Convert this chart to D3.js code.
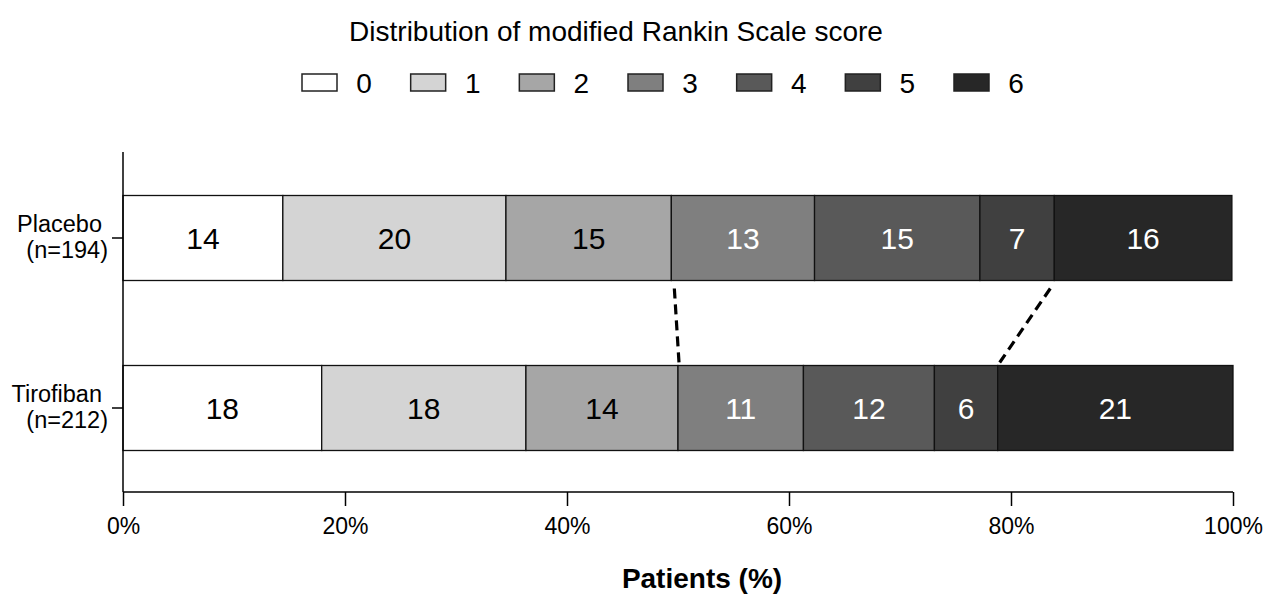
<!DOCTYPE html>
<html>
<head>
<meta charset="utf-8">
<script src="https://cdn.jsdelivr.net/npm/d3@7"></script>
<style>
  body { margin: 0; background: #fff; }
  text { font-family: "Liberation Sans", Arial, sans-serif; }
</style>
</head>
<body>
<div id="chart"></div>
<script>
// data: share of patients (%) per mRS score
const scores = ["0", "1", "2", "3", "4", "5", "6"];
const groups = ["Placebo", "Tirofiban"];
const groupN = ["(n=194)", "(n=212)"];
const placebo = [14.4, 20.1, 14.9, 12.9, 14.9, 6.7, 16.0];
const tirofiban = [17.9, 18.4, 13.7, 11.3, 11.8, 5.7, 21.2];
const xTicks = [0, 20, 40, 60, 80, 100];
// dashed connectors: boundary after these score indexes
const links = [2, 5];

const W = 1265, H = 594;
const margin = { top: 152, right: 32, bottom: 102, left: 123 };

const colorScale = d3.scaleOrdinal()
  .domain(scores)
  .range(["#ffffff", "#d4d4d4", "#a6a6a6", "#7f7f7f", "#595959", "#404040", "#272727"]);
const textColor = s => (+s >= 3 ? "#fff" : "#000");

const svg = d3.select("#chart").append("svg")
  .attr("width", W).attr("height", H);

const x = d3.scaleLinear().domain([0, 100]).range([margin.left, W - margin.right]);
// centre of each bar
const y = d3.scalePoint().domain(groups).range([238, 408]);
const bandH = 85;

// title
svg.append("text")
  .attr("x", 616).attr("y", 41)
  .attr("text-anchor", "middle")
  .style("font-size", "28px")
  .text("Distribution of modified Rankin Scale score");

// legend
const legend = svg.append("g");
const lx = d3.scalePoint().domain(scores).range([302, 954]);
scores.forEach(s => {
  legend.append("rect")
    .attr("x", lx(s)).attr("y", 74).attr("width", 35).attr("height", 17)
    .attr("fill", colorScale(s)).attr("stroke", "#222").attr("stroke-width", 1.5);
  legend.append("text")
    .attr("x", lx(s) + 62).attr("y", 93)
    .attr("text-anchor", "middle")
    .style("font-size", "28px")
    .text(s);
});

// stacked bars
const series = [placebo, tirofiban];
const stacks = series.map(vals => {
  let acc = 0;
  return vals.map((v, i) => { const d = { s: scores[i], x0: acc, x1: acc + v, v: v }; acc += v; return d; });
});

groups.forEach((g, gi) => {
  const row = svg.append("g");
  const top = y(g) - bandH / 2;
  row.selectAll("rect").data(stacks[gi]).enter().append("rect")
    .attr("x", d => x(d.x0)).attr("y", top)
    .attr("width", d => x(d.x1) - x(d.x0)).attr("height", bandH)
    .attr("fill", d => colorScale(d.s))
    .attr("stroke", "#111").attr("stroke-width", 1.3);
  row.selectAll("text").data(stacks[gi]).enter().append("text")
    .attr("x", d => (x(d.x0) + x(d.x1)) / 2).attr("y", y(g) + 11)
    .attr("text-anchor", "middle")
    .style("font-size", "30px")
    .attr("fill", d => textColor(d.s))
    .text(d => Math.round(d.v));
});

// dashed connectors between bars
links.forEach(i => {
  const a = stacks[0][i].x1, b = stacks[1][i].x1;
  svg.append("line")
    .attr("x1", x(a) + (b < a ? -4 : 3)).attr("y1", y(groups[0]) + bandH / 2 + 8)
    .attr("x2", x(b) + (b < a ? 2 : 1)).attr("y2", y(groups[1]) - bandH / 2 - 3)
    .attr("stroke", "#000").attr("stroke-width", 3.2)
    .attr("stroke-dasharray", "10,6");
});

// y axis
svg.append("line")
  .attr("x1", margin.left).attr("x2", margin.left)
  .attr("y1", margin.top).attr("y2", H - margin.bottom)
  .attr("stroke", "#000").attr("stroke-width", 1.5);
groups.forEach((g, gi) => {
  svg.append("line")
    .attr("x1", margin.left - 11).attr("x2", margin.left)
    .attr("y1", y(g)).attr("y2", y(g))
    .attr("stroke", "#000").attr("stroke-width", 1.5);
  svg.append("text")
    .attr("text-anchor", "end").attr("x", 102).attr("y", y(g) - 6)
    .style("font-size", "23.5px").text(g);
  svg.append("text")
    .attr("text-anchor", "end").attr("x", 108).attr("y", y(g) + 20)
    .style("font-size", "23.5px").text(groupN[gi]);
});

// x axis
const xAxis = svg.append("g")
  .attr("transform", "translate(0," + (H - margin.bottom) + ")")
  .call(d3.axisBottom(x).tickValues(xTicks).tickFormat(d => d + "%").tickSize(14).tickPadding(12));
xAxis.select(".domain").attr("stroke-width", 1.5).attr("d", "M" + x(0) + ",0H" + x(100));
xAxis.selectAll(".tick line").attr("stroke-width", 1.5);
xAxis.selectAll(".tick text").style("font-size", "23px").style("font-family", "Liberation Sans, Arial, sans-serif");

svg.append("text")
  .attr("x", 702).attr("y", 588)
  .attr("text-anchor", "middle")
  .style("font-size", "28px").style("font-weight", "bold")
  .text("Patients (%)");
</script>
</body>
</html>
